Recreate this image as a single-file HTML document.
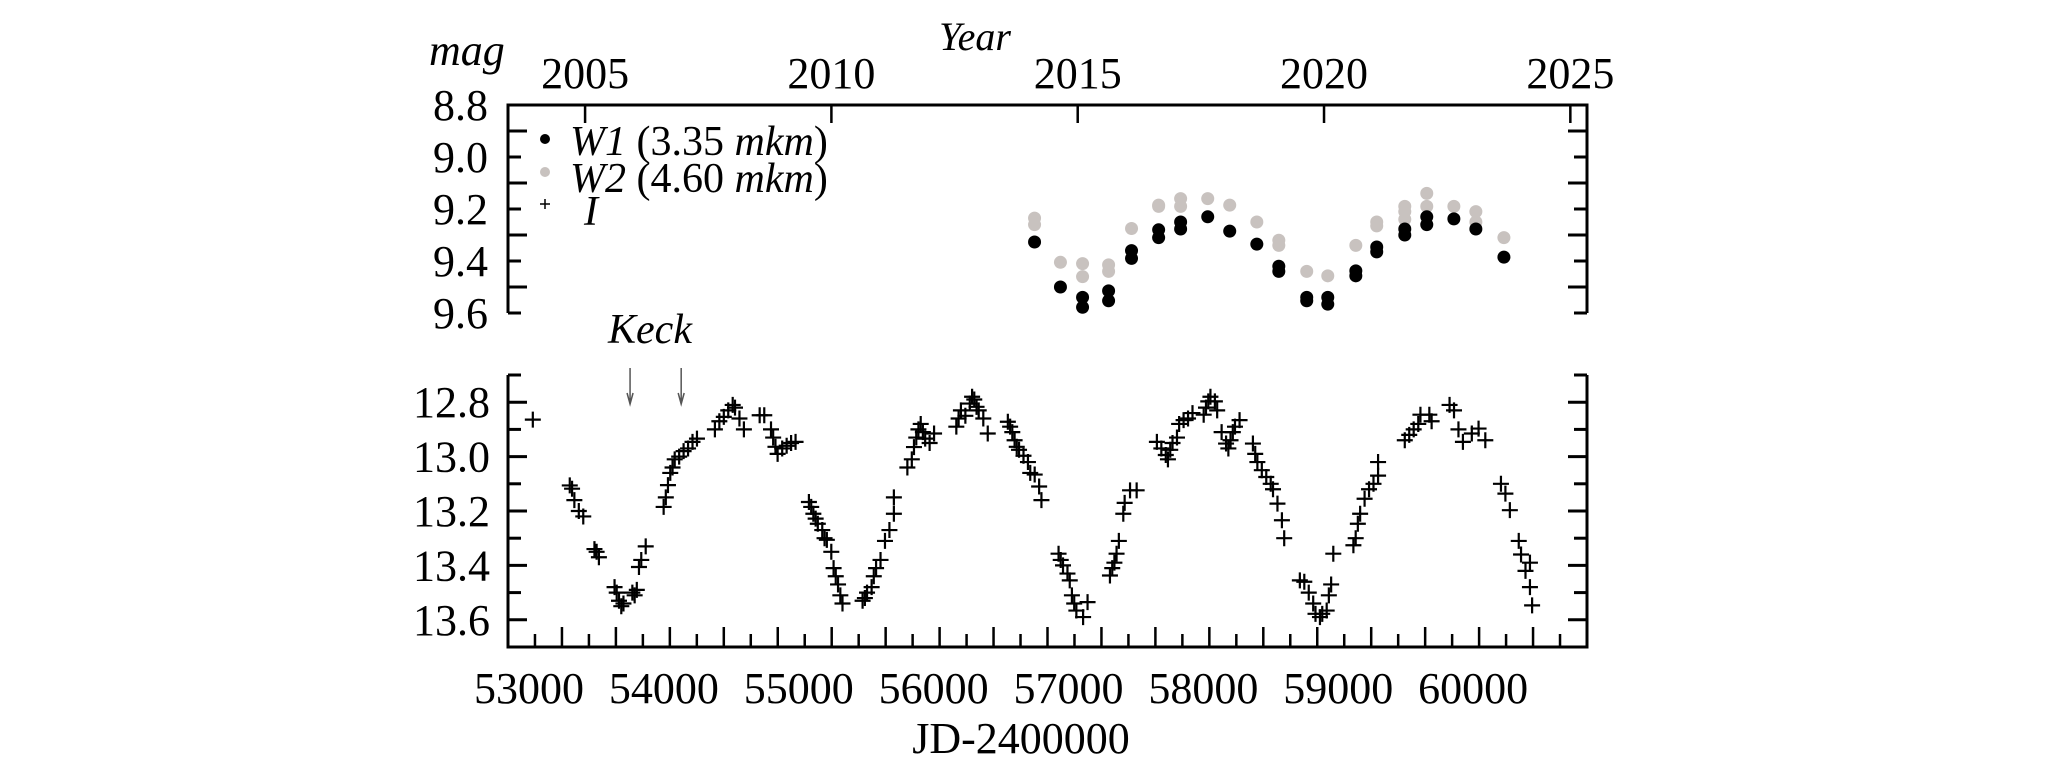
<!DOCTYPE html>
<html><head><meta charset="utf-8"><title>Light curve</title>
<style>html,body{margin:0;padding:0;background:#fff}svg{display:block}
text{font-family:"Liberation Serif",serif;fill:#000}</style></head>
<body>
<svg id="chart" width="2067" height="774" viewBox="0 0 2067 774" xmlns="http://www.w3.org/2000/svg">
<g id="axes"></g><g id="marks"></g><g id="labels"></g>
</svg>
<script>
// ---- data ----
const w1JD=[56704,56896,57060,57060,57253,57253,57423,57423,57624,57624,57787,57787,57988,58151,58352,58515,58515,58722,58722,58878,58878,59086,59086,59241,59241,59449,59449,59612,59612,59813,59976,60184];
const w1Mag=[9.327,9.50,9.54,9.578,9.515,9.553,9.36,9.39,9.28,9.31,9.25,9.277,9.23,9.285,9.335,9.42,9.44,9.54,9.553,9.54,9.566,9.438,9.457,9.346,9.365,9.277,9.30,9.23,9.26,9.238,9.277,9.385];
const w2JD=[56704,56704,56896,57060,57060,57253,57253,57423,57624,57624,57787,57787,57988,58151,58352,58515,58515,58722,58878,59086,59241,59241,59449,59449,59449,59612,59612,59813,59976,59976,60184];
const w2Mag=[9.235,9.26,9.405,9.41,9.46,9.415,9.44,9.275,9.185,9.19,9.16,9.19,9.16,9.185,9.25,9.32,9.34,9.44,9.457,9.34,9.25,9.265,9.19,9.21,9.24,9.14,9.19,9.19,9.21,9.25,9.31];
const iJD=[52984,53258,53275,53292,53325,53358,53441,53457,53474,53590,53606,53623,53640,53656,53722,53739,53755,53771,53788,53821,53954,53970,53986,54003,54020,54036,54069,54102,54135,54168,54201,54334,54367,54400,54433,54466,54483,54516,54549,54666,54700,54750,54766,54783,54799,54833,54866,54899,54932,55031,55048,55064,55081,55097,55130,55147,55164,55197,55214,55230,55247,55264,55280,55429,55446,55462,55496,55512,55529,55562,55595,55628,55661,55661,55761,55794,55810,55827,55843,55860,55876,55893,55926,55959,56124,56141,56158,56191,56224,56241,56257,56274,56290,56324,56357,56506,56523,56539,56556,56572,56589,56622,56655,56672,56705,56738,56755,56882,56898,56915,56948,56965,56981,56998,57014,57064,57097,57263,57280,57296,57312,57329,57362,57372,57412,57461,57611,57644,57677,57693,57710,57727,57760,57776,57809,57842,57875,57958,57975,57992,58008,58041,58058,58091,58124,58141,58157,58174,58190,58224,58323,58340,58356,58389,58422,58455,58472,58505,58538,58555,58671,58704,58737,58770,58787,58820,58837,58870,58886,58903,58919,59068,59085,59101,59118,59151,59184,59217,59251,59251,59449,59482,59515,59549,59565,59631,59648,59781,59814,59847,59880,59946,59996,60046,60162,60195,60228,60294,60311,60344,60377,60377,60393];
const iMag=[12.864,13.106,13.118,13.16,13.20,13.22,13.34,13.35,13.37,13.48,13.50,13.53,13.55,13.54,13.50,13.51,13.49,13.406,13.38,13.33,13.185,13.15,13.105,13.06,13.04,13.01,13.00,12.98,12.97,12.946,12.934,12.90,12.87,12.854,12.83,12.81,12.82,12.86,12.90,12.848,12.848,12.90,12.93,12.964,12.99,12.97,12.96,12.95,12.946,13.167,13.185,13.21,13.228,13.247,13.27,13.30,13.306,13.35,13.41,13.44,13.47,13.51,13.54,13.53,13.52,13.50,13.48,13.44,13.41,13.38,13.31,13.27,13.21,13.15,13.04,13.01,12.965,12.93,12.90,12.88,12.91,12.934,12.95,12.915,12.89,12.86,12.83,12.85,12.805,12.78,12.79,12.817,12.83,12.86,12.915,12.872,12.89,12.91,12.94,12.964,12.975,12.997,13.02,13.06,13.066,13.11,13.16,13.357,13.38,13.40,13.43,13.455,13.51,13.54,13.566,13.59,13.535,13.437,13.41,13.39,13.357,13.31,13.21,13.17,13.124,13.124,12.946,12.97,12.994,13.01,12.975,12.95,12.93,12.88,12.866,12.86,12.84,12.846,12.82,12.797,12.78,12.797,12.83,12.91,12.952,12.97,12.94,12.91,12.89,12.866,12.952,12.99,13.02,13.05,13.075,13.10,13.12,13.173,13.234,13.30,13.455,13.46,13.50,13.54,13.578,13.59,13.578,13.566,13.51,13.47,13.357,13.326,13.30,13.247,13.21,13.155,13.12,13.10,13.07,13.02,12.94,12.92,12.90,12.88,12.846,12.846,12.87,12.81,12.83,12.90,12.946,12.915,12.897,12.94,13.10,13.136,13.197,13.31,13.36,13.42,13.39,13.48,13.547];
const topTicks=["8.8","9.0","9.2","9.4","9.6"];
const botTicks=["12.8","13.0","13.2","13.4","13.6"];
const yearTicks=["2005","2010","2015","2020","2025"];
const jdTicks=["53000","54000","55000","56000","57000","58000","59000","60000"];
const keckJD=[53705,54084];

// ---- scales ----
const X0=508,X1=1587;
const xJ=jd=>X0+(jd-52800)*(X1-X0)/8000;
const yT=m=>105+(m-8.8)*(313-105)/0.8;
const yB=m=>375+(m-12.7)*(647-375)/1.0;
const yearJD=y=>53371.5+(y-2005)*365.25;
const NS="http://www.w3.org/2000/svg";
const ax=document.getElementById('axes'),mk=document.getElementById('marks'),lb=document.getElementById('labels');
function el(parent,tag,attrs){const e=document.createElementNS(NS,tag);for(const k in attrs)e.setAttribute(k,attrs[k]);parent.appendChild(e);return e;}
function line(x1,y1,x2,y2,w,c){return el(ax,'line',{x1,y1,x2,y2,stroke:c||'#000','stroke-width':w||3});}
function txt(x,y,s,size,anchor,italic){const t=el(lb,'text',{x,y,'font-size':size,'text-anchor':anchor||'start'});if(italic)t.setAttribute('font-style','italic');t.textContent=s;return t;}

// ---- top panel frame ----
let p=el(ax,'polyline',{points:`${X0},313 ${X0},105 ${X1},105 ${X1},313`,fill:'none',stroke:'#000','stroke-width':3});


for(let i=0;i<=8;i++){const m=8.8+i*0.1;const y=yT(m);const L=(i%2)?19:13;
  line(X0,y,X0+L,y);line(X1,y,X1-L,y);}
yearTicks.forEach(s=>{const x=xJ(yearJD(+s));line(x,105,x,123,2.5);
  const t=txt(x,88,s,44,'middle');
  
  });
topTicks.forEach(s=>{const t=txt(488,yT(+s)+15,s,44,'end');
  
  });

// ---- bottom panel frame ----
p=el(ax,'polyline',{points:`${X0},375 ${X0},647 ${X1},647 ${X1},375`,fill:'none',stroke:'#000','stroke-width':3});


for(let i=0;i<=9;i++){const m=12.7+i*0.1;const y=yB(m);const L=(i%2)?19:13;
  line(X0,y,X0+L,y);line(X1,y,X1-L,y);}
for(let jd=53000;jd<=60600;jd+=200){const x=xJ(jd);const tall=((jd-53000)/200)%2===1;line(x,647,x,tall?627:634,2.5);}
jdTicks.forEach(s=>{const t=txt(xJ(+s)-6,703,s,44,'middle');
  
  });
botTicks.forEach(s=>{const t=txt(490,yB(+s)+15,s,44,'end');
  
  });

// ---- marks ----
function plus(x,y,s,w){const g=el(mk,'path',{d:`M${x-s},${y}H${x+s}M${x},${y-s}V${y+s}`,stroke:'#000','stroke-width':w,fill:'none'});return g;}
w2JD.forEach((j,i)=>{const c=el(mk,'circle',{cx:xJ(j),cy:yT(w2Mag[i]),r:6.5,fill:'#c8c2bf'});
  
  });
w1JD.forEach((j,i)=>{const c=el(mk,'circle',{cx:xJ(j),cy:yT(w1Mag[i]),r:6.5,fill:'#000'});
  
  });
iJD.forEach((j,i)=>{const c=plus(xJ(j),yB(iMag[i]),8,2.2);
  
  });
keckJD.forEach(j=>{const x=xJ(j);
  const a=el(mk,'path',{d:`M${x},368V404M${x-3},393L${x},404L${x+3},393`,stroke:'#555','stroke-width':1.5,fill:'none'});
  
  });

// ---- legend markers ----
let c=el(mk,'circle',{cx:545,cy:139,r:5,fill:'#000'});


c=el(mk,'circle',{cx:545,cy:172,r:5,fill:'#c8c2bf'});


c=plus(545,204,5,1.5);


</script>
<svg style="position:absolute;left:0;top:0" width="2067" height="774">
<text x="570" y="155" font-size="42"><tspan font-style="italic">W1</tspan> (3.35 <tspan font-style="italic">mkm</tspan>)</text>
<text x="570" y="192" font-size="42"><tspan font-style="italic">W2</tspan> (4.60 <tspan font-style="italic">mkm</tspan>)</text>
<text x="584" y="225" font-size="42" font-style="italic">I</text>
<text x="429" y="65" font-size="44" font-style="italic">mag</text>
<text x="975" y="50" font-size="40" font-style="italic" text-anchor="middle">Year</text>
<text x="650" y="343" font-size="42" font-style="italic" text-anchor="middle">Keck</text>
<text x="1021" y="753" font-size="44" text-anchor="middle">JD-2400000</text>
</svg>
</body></html>
